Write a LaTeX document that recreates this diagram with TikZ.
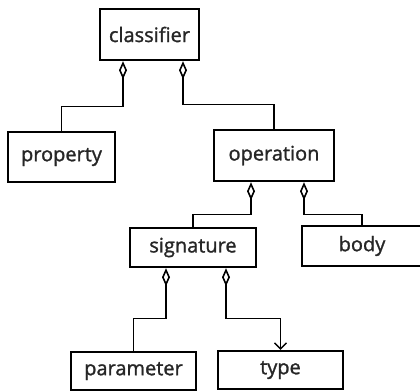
\documentclass[tikz,border=0pt]{standalone}
\usepackage{fontspec}
\setmainfont{Open Sans}
\newfontfamily\boxfont{Open Sans}[FakeBold=1.3]
\usetikzlibrary{arrows.meta}
\tikzset{
  cls/.style={draw, line width=2.4pt, inner sep=0pt, text=black!85,
    font=\boxfont\fontsize{20}{23}\selectfont},
  has/.style={line width=1.4pt, {Diamond[open,length=18pt,width=8pt,line width=1.6pt]}-},
  nav/.style={line width=1.4pt,
    {Diamond[open,length=18pt,width=8pt,line width=1.6pt]}-{Straight Barb[length=6pt,width=12pt]}}
}
\begin{document}
\begin{tikzpicture}[x=1pt, y=-1pt]
  \useasboundingbox (0,0) rectangle (420,391);
  \draw
    (149.5,34.5) node[cls, minimum width=99pt, minimum height=51pt] (classifier){classifier}
    (61.5,157) node[cls, minimum width=107pt, minimum height=50pt] (property){property}
    (274,155.5) node[cls, minimum width=120pt, minimum height=51pt] (operation){operation}
    (193,247.5) node[cls, minimum width=126pt, minimum height=39pt] (signature){signature}
    (362,246) node[cls, minimum width=120pt, minimum height=40pt] (body){body}
    (133.5,371) node[cls, minimum width=125pt, minimum height=38pt] (parameter){parameter}
    (280.5,370) node[cls, minimum width=125pt, minimum height=38pt] (type){type};
  \begin{scope}[has]
    \draw ([xshift=-26.5pt]classifier.south) -- ++(0,45) -| (property.north);
    \draw ([xshift=33.5pt]classifier.south) -- ++(0,43) -| (operation.north);
    \draw ([xshift=-23pt]operation.south) -- ++(0,32) -| (signature.north);
    \draw ([xshift=30pt]operation.south) -- ++(0,32) -| (body.north);
    \draw ([xshift=-27pt]signature.south) -- ++(0,50) -| (parameter.north);
    \draw[nav] ([xshift=33pt]signature.south) -- ++(0,50) -| (type.north);
  \end{scope}
\end{tikzpicture}
\end{document}
